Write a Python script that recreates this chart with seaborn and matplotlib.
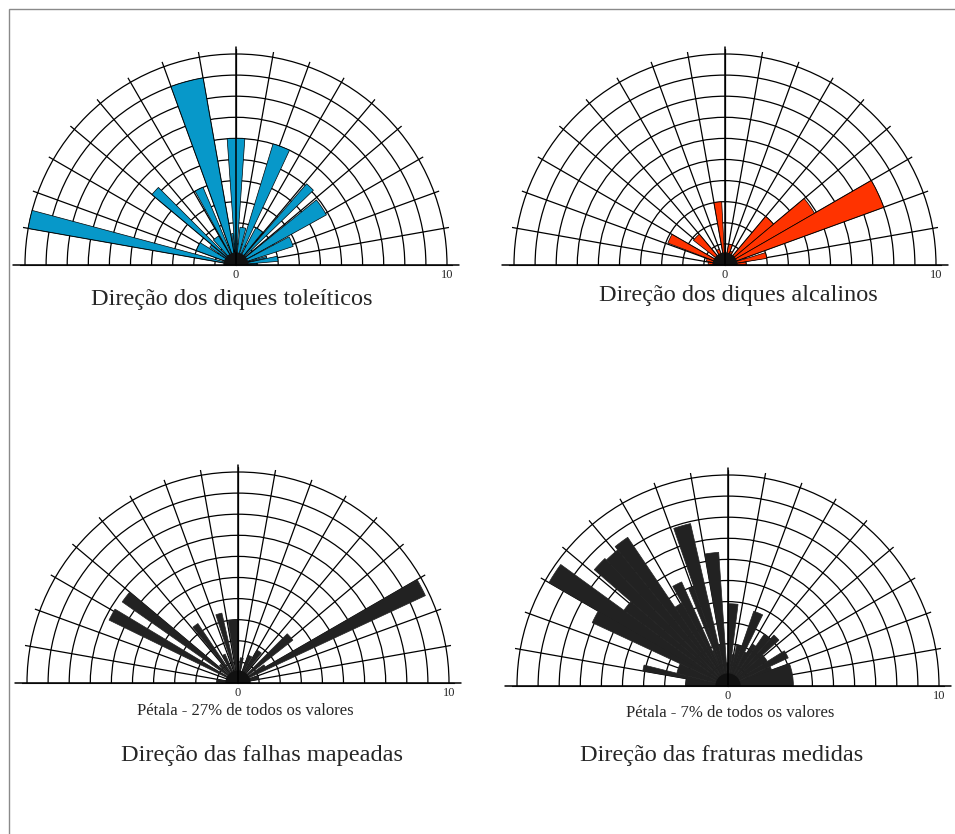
import numpy as np
import matplotlib
matplotlib.use("Agg")
import matplotlib.pyplot as plt
import seaborn as sns

# petals: azimuth where each petal starts / ends (degrees, N = 0, E positive)
# and its length on the 0-10 scale of the rose
tol_from = [-80, -70, -56, -50, -42, -29, -20, -8, -4, 6, 17, 28, 41, 51, 62, 74, 78, 86]
tol_to = [-75, -58, -51, -45, -31, -23, -10, -5, 4, 15, 25, 39, 46, 61, 72, 77, 85, 90]
tol_len = [10.0, 2.0, 1.5, 5.2, 1.6, 4.0, 9.0, 1.5, 6.0, 1.8, 6.0, 2.0, 5.1, 4.9, 2.85, 1.5, 2.0, 1.0]

alc_from = [-88, -78, -69, -52, -30, -10, 10, 22, 40, 50, 60, 73, 82]
alc_to = [-80, -70, -60, -40, -20, -3, 20, 30, 50, 60, 70, 81, 90]
alc_len = [0.8, 0.9, 2.9, 1.9, 0.8, 3.0, 1.0, 0.7, 3.0, 4.9, 8.0, 2.0, 1.0]

fal_from = [-88, -64, -55, -47, -39, -30, -18, -9, 5, 20, 30, 45, 55, 60, 70]
fal_to = [-80, -59, -50, -42, -34, -24, -13, 0, 12, 28, 38, 52, 59, 65, 80]
fal_len = [1.0, 6.8, 6.7, 1.2, 3.4, 1.5, 3.4, 3.0, 1.2, 1.4, 1.8, 3.3, 1.5, 9.8, 1.0]

fra_from = [-90, -80, -76, -65, -60, -54, -49, -44, -39, -34, -29, -24, -22, -19, -13,
            -10, -4, 0, 7, 12, 19, 26, 30, 35, 42, 48, 58, 65, 70]
fra_to = [-80, -76, -65, -60, -54, -49, -44, -39, -34, -29, -24, -22, -19, -13, -10,
          -4, 0, 7, 12, 19, 26, 30, 35, 42, 48, 58, 65, 70, 90]
fra_len = [2.0, 4.1, 2.5, 7.1, 9.8, 6.1, 8.4, 8.3, 8.5, 4.5, 5.4, 1.8, 5.0, 7.9, 2.0,
           6.35, 1.1, 3.9, 1.5, 2.0, 3.75, 1.8, 2.3, 3.0, 3.25, 2.2, 3.15, 2.2, 3.1]

captions = ["Direção dos diques toleíticos", "Direção dos diques alcalinos",
            "Direção das falhas mapeadas", "Direção das fraturas medidas"]
subcaptions = ["", "", "Pétala - 27% de todos os valores", "Pétala - 7% de todos os valores"]

sns.set_style("white")
plt.rcParams["font.family"] = ["Liberation Serif", "DejaVu Serif"]

W, H = 955, 834
fig = plt.figure(figsize=(W / 100, H / 100), dpi=100)

PX = 21.1      # pixels per unit of petal length
RMAX = 10.25   # radial lines run a little past the outer circle
HUB_R = 0.6


def add_rose(cx, cy, starts, ends, lengths, color):
    R = RMAX * PX
    # polar wedge of a half circle sits in a square box, flat edge at 1/4 height
    ax = fig.add_axes([(cx - R) / W, (H - cy - R / 2) / H, 2 * R / W, 2 * R / H],
                      projection="polar")
    ax.set_theta_zero_location("N")
    ax.set_theta_direction(-1)
    ax.set_thetamin(-90)
    ax.set_thetamax(90)
    ax.set_ylim(0, RMAX)
    ax.set_rticks(np.arange(1, 11))
    ax.set_yticklabels([])
    ax.set_xticks(np.deg2rad(np.arange(-90, 91, 10)))
    ax.set_xticklabels([])
    ax.grid(True, color="black", lw=0.9)
    ax.set_axisbelow(True)
    for sp in ax.spines.values():
        sp.set_visible(False)
    ax.set_facecolor("white")

    starts = np.array(starts, dtype=float)
    ends = np.array(ends, dtype=float)
    mids = np.deg2rad((starts + ends) / 2)
    widths = np.deg2rad(ends - starts)
    edge = "black" if color != "#222222" else color
    ax.bar(mids, lengths, width=widths, bottom=0, color=color,
           edgecolor=edge, lw=0.5, zorder=3)
    # dense convergence of the radial lines at the origin
    ax.bar(0, HUB_R, width=np.pi, color="#111111", lw=0, zorder=4)
    # east-west base line
    for t in (-90, 90):
        ax.plot([np.deg2rad(t)] * 2, [0, 10.55], color="black", lw=1.1,
                clip_on=False, zorder=5)
    ax.plot([0, 0], [0, 10.35], color="black", lw=1.1, clip_on=False, zorder=5)

    ax.annotate("N", xy=(0, 10.35), xytext=(0, 2), textcoords="offset points",
                ha="center", va="bottom", fontsize=9, fontweight="bold")
    ax.annotate("0", xy=(0, 0), xytext=(0, -3), textcoords="offset points",
                ha="center", va="top", fontsize=9)
    ax.annotate("10", xy=(np.pi / 2, 10), xytext=(0, -3), textcoords="offset points",
                ha="center", va="top", fontsize=9)
    return ax


add_rose(236, 265, tol_from, tol_to, tol_len, "#0798c9")
add_rose(725, 265, alc_from, alc_to, alc_len, "#ff3300")
add_rose(238, 683, fal_from, fal_to, fal_len, "#222222")
add_rose(728, 686, fra_from, fra_to, fra_len, "#222222")

cap_xy = [(232, 300), (738, 296), (262, 755), (722, 755)]
sub_xy = [None, None, (245, 711), (730, 713)]
for txt, (x, y) in zip(captions, cap_xy):
    fig.text(x / W, 1 - y / H, txt, ha="center", va="center", fontsize=17.5)
for txt, pos in zip(subcaptions, sub_xy):
    if pos:
        fig.text(pos[0] / W, 1 - pos[1] / H, txt, ha="center", va="center", fontsize=12)

# thin frame around the page
fig.add_artist(plt.Rectangle((9 / W, -0.1), 1.2, (H - 9) / H + 0.1,
                             transform=fig.transFigure, fill=False,
                             edgecolor="#8a8a8a", lw=1))

fig.savefig("out.png", dpi=100, facecolor="white")
